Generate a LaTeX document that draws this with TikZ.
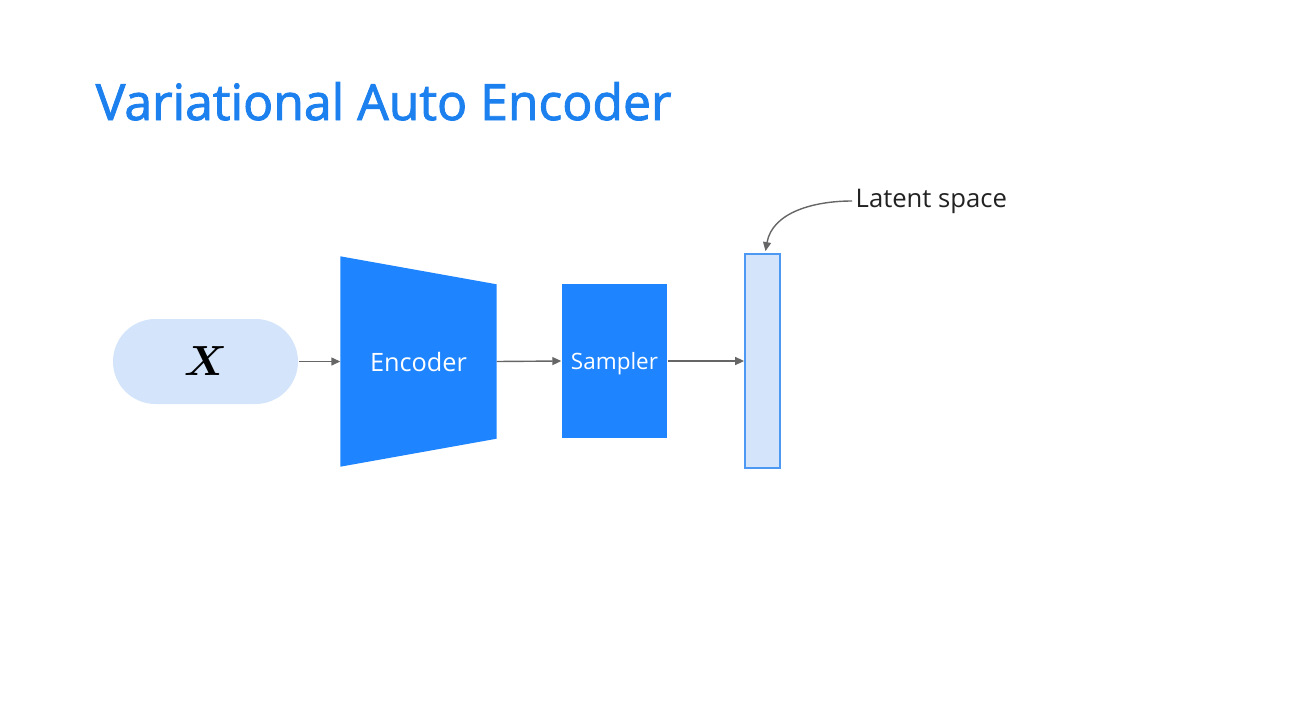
\documentclass[tikz,border=0pt]{standalone}
\usepackage{fontspec}
\setmainfont{Open Sans}
\newfontfamily\headfont{Open Sans}[FakeBold=1.8]
\usetikzlibrary{arrows.meta,calc}
\definecolor{titleblue}{HTML}{1C80EE}
\definecolor{blockfill}{HTML}{1E84FF}
\definecolor{softfill}{HTML}{D3E4FB}
\definecolor{softborder}{HTML}{4D98F2}
\definecolor{linegray}{HTML}{666666}
\definecolor{textdark}{HTML}{222222}
\tikzset{
  heading/.style={font=\headfont\fontsize{14.2}{17}\selectfont, text=titleblue, inner sep=0pt},
  pill/.style={rectangle, fill=softfill, minimum width=1.85cm, minimum height=0.85cm, rounded corners=0.425cm},
  block/.style={rectangle, fill=blockfill, text=white, inner sep=0pt, text depth=0pt, font=\fontsize{7.2}{8}\selectfont},
  latent/.style={rectangle, fill=softfill, draw=softborder, line width=0.5pt, minimum width=0.35cm, minimum height=2.14cm},
  tag/.style={font=\fontsize{7.3}{8}\selectfont, text=textdark, inner sep=0pt},
  flow/.style={-{Triangle[length=0.9mm, width=0.8mm]}, line width=0.4pt, draw=linegray}
}

\begin{document}
\begin{tikzpicture}
\useasboundingbox (0,0) rectangle (13.04,7.09);

% Title
\node[heading, anchor=base west] (head) at (0.95,5.89) {Variational Auto Encoder};

% --- Input ---
\node[pill, font=\fontsize{11.8}{14}\selectfont] (input) at (2.055,3.475) {{\boldmath$X$}};

% --- Encoder (trapezoid drawn over an empty frame) ---
\node[rectangle, minimum width=1.55cm, minimum height=2.09cm, inner sep=0pt] (enc) at (4.185,3.475) {};
\fill[blockfill] (enc.north west) -- ($(enc.north east)+(0,-0.28)$)
  -- ($(enc.south east)+(0,0.28)$) -- (enc.south west) -- cycle;
\node[block] (enctxt) at (enc.center) {Encoder};

% --- Sampler ---
\node[block, minimum width=1.05cm, minimum height=1.54cm, font=\fontsize{6.4}{8}\selectfont] (samp) at (6.145,3.48) {Sampler};

% --- Latent ---
\node[latent] (lat) at (7.625,3.48) {};
\node[tag, anchor=west] (ltxt) at (8.55,5.08) {Latent space};

% --- Flow ---
\draw[flow] (input.east) -- (enc.west);
\draw[flow] (enc.east) -- (samp.west);
\draw[flow] (samp.east) -- (samp.east -| lat.west);
\draw[flow] ([xshift=-0.03cm]ltxt.west) to[out=180, in=80] ([xshift=0.03cm, yshift=0.02cm]lat.north);

\end{tikzpicture}
\end{document}
